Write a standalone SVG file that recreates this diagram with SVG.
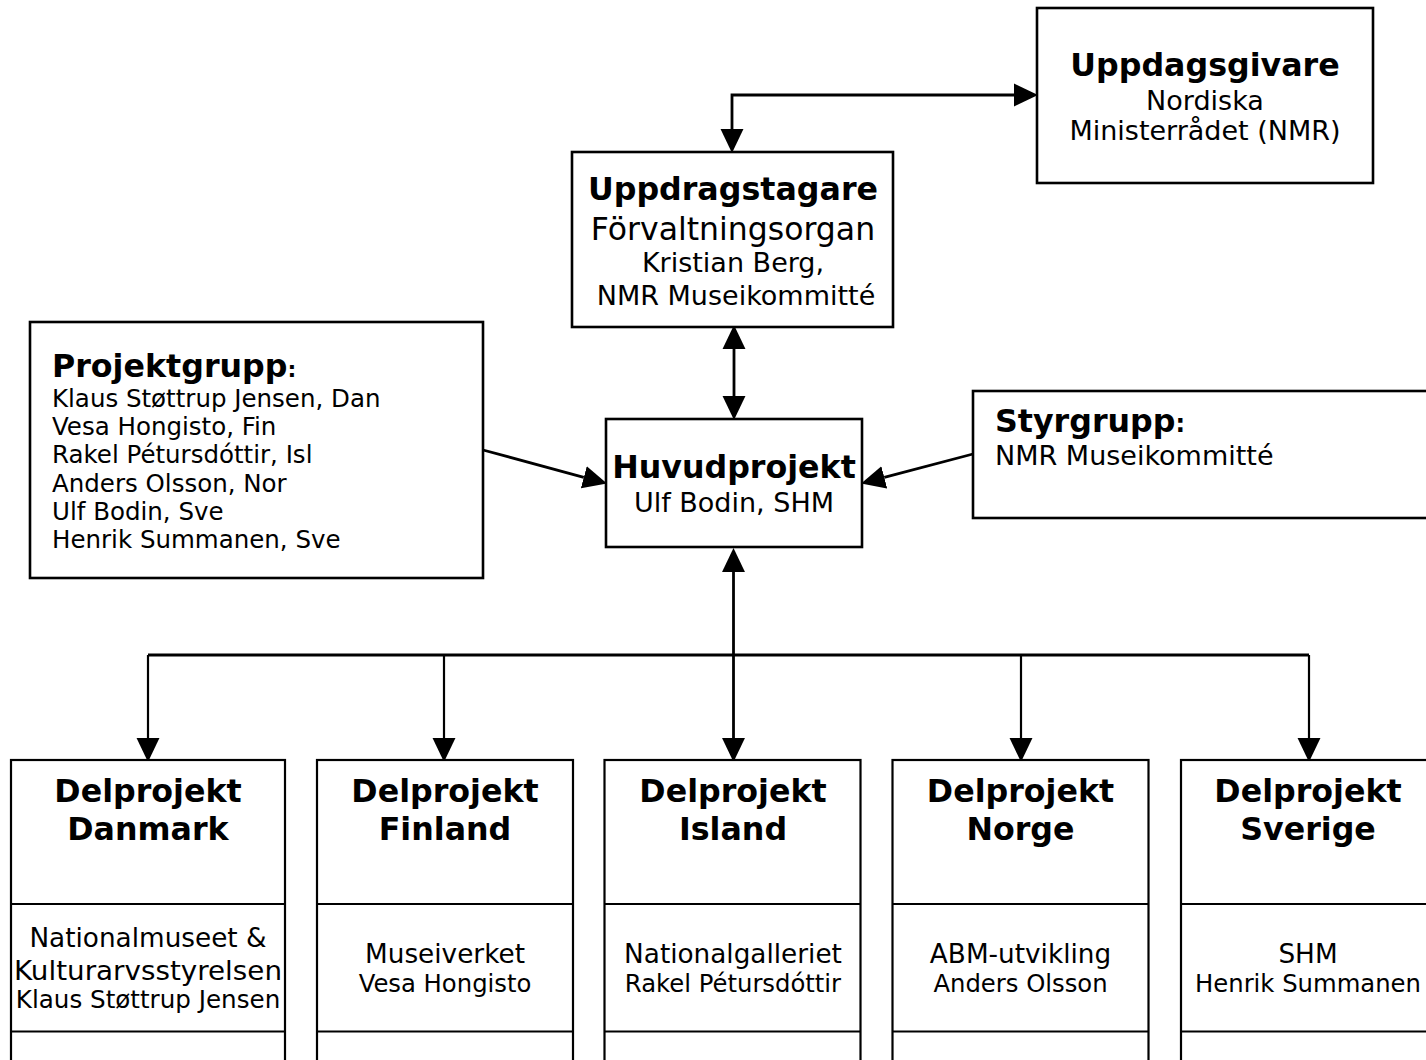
<svg xmlns="http://www.w3.org/2000/svg" width="1426" height="1060" viewBox="0 0 1426 1060">
<style>
text{font-family:"DejaVu Sans",Verdana,sans-serif;fill:#000}
.b{font-weight:bold;font-size:31.7px}
.r{font-size:27px}
.s{font-size:24.3px}
.p{font-size:24.5px}
.c{text-anchor:middle}
.box{fill:#fff;stroke:#000;stroke-width:2.6}
.bx2{fill:#fff;stroke:#000;stroke-width:2.2}
.ln{fill:none;stroke:#000;stroke-width:2.2}
.con{fill:none;stroke:#000;stroke-width:2.8}
</style>
<defs>
<marker id="ah" markerUnits="userSpaceOnUse" markerWidth="24" markerHeight="24" refX="0" refY="10.5" orient="auto-start-reverse" viewBox="0 0 22 21">
<path d="M0,0 L22,10.5 L0,21 z" fill="#000"/>
</marker>
</defs>
<rect width="1426" height="1060" fill="#fff"/>

<g id="connectors">
<path class="con" d="M732,129 L732,95 L1014,95" marker-start="url(#ah)" marker-end="url(#ah)"/>
<path class="con" d="M734,349 L734,396" marker-start="url(#ah)" marker-end="url(#ah)"/>
<path class="con" d="M483,450 L583.8,477.3" marker-end="url(#ah)"/>
<path class="con" d="M973,454 L884.3,477.4" marker-end="url(#ah)"/>
<path class="con" d="M733.5,572 L733.5,738" marker-start="url(#ah)" marker-end="url(#ah)"/>
<path class="con" d="M148,655 L1309,655"/>
<path class="ln" d="M148,655 L148,738" marker-end="url(#ah)"/>
<path class="ln" d="M444,655 L444,738" marker-end="url(#ah)"/>
<path class="ln" d="M1021,655 L1021,738" marker-end="url(#ah)"/>
<path class="ln" d="M1309,655 L1309,738" marker-end="url(#ah)"/>
</g>

<g id="uppdragsgivare">
<rect class="box" x="1037" y="8" width="336" height="175"/>
<text class="b c" x="1205" y="76">Uppdagsgivare</text>
<text class="r c" x="1205" y="110">Nordiska</text>
<text class="r c" x="1205" y="140">Ministerrådet (NMR)</text>
</g>

<g id="uppdragstagare">
<rect class="box" x="572" y="152" width="321" height="175"/>
<text class="b c" x="733" y="200">Uppdragstagare</text>
<text class="c" x="733" y="240" font-size="31.5">Förvaltningsorgan</text>
<text class="r c" x="733" y="272">Kristian Berg,</text>
<text class="r c" x="736" y="305">NMR Museikommitté</text>
</g>

<g id="projektgrupp">
<rect class="box" x="30" y="322" width="453" height="256"/>
<text class="b" x="52" y="377">Projektgrupp<tspan font-size="22">:</tspan></text>
<text class="p" x="52" y="406.5">Klaus Støttrup Jensen, Dan</text>
<text class="p" x="52" y="435">Vesa Hongisto, Fin</text>
<text class="p" x="52" y="463.3">Rakel Pétursdóttir, Isl</text>
<text class="p" x="52" y="491.7">Anders Olsson, Nor</text>
<text class="p" x="52" y="520">Ulf Bodin, Sve</text>
<text class="p" x="52" y="548.3">Henrik Summanen, Sve</text>
</g>

<g id="huvudprojekt">
<rect class="box" x="606" y="419" width="256" height="128"/>
<text class="b c" x="734" y="478">Huvudprojekt</text>
<text class="r c" x="734" y="512">Ulf Bodin, SHM</text>
</g>

<g id="styrgrupp">
<rect class="box" x="973" y="391" width="480" height="127"/>
<text class="b" x="995" y="432">Styrgrupp<tspan font-size="24">:</tspan></text>
<text class="r" x="995" y="465">NMR Museikommitté</text>
</g>

<g id="delprojekt-danmark">
<rect class="bx2" x="11" y="760" width="274" height="320"/>
<path class="ln" d="M11,904 H285 M11,1031.5 H285"/>
<text class="b c" x="148" y="801.7">Delprojekt</text>
<text class="b c" x="148" y="840">Danmark</text>
<text class="c" x="148" y="946.7" font-size="26.3">Nationalmuseet &amp;</text>
<text class="c" x="148" y="980" font-size="27" textLength="268" lengthAdjust="spacingAndGlyphs">Kulturarvsstyrelsen</text>
<text class="c" x="148" y="1008" font-size="24.6">Klaus Støttrup Jensen</text>
</g>

<g id="delprojekt-finland">
<rect class="bx2" x="317" y="760" width="256" height="320"/>
<path class="ln" d="M317,904 H573 M317,1031.5 H573"/>
<text class="b c" x="445" y="801.7">Delprojekt</text>
<text class="b c" x="445" y="840">Finland</text>
<text class="c" x="445" y="963" font-size="26.3">Museiverket</text>
<text class="s c" x="445" y="992">Vesa Hongisto</text>
</g>

<g id="delprojekt-island">
<rect class="bx2" x="604.5" y="760" width="256" height="320"/>
<path class="ln" d="M604.5,904 H860.5 M604.5,1031.5 H860.5"/>
<text class="b c" x="733" y="801.7">Delprojekt</text>
<text class="b c" x="733" y="840">Island</text>
<text class="c" x="733" y="963" font-size="26.3">Nationalgalleriet</text>
<text class="s c" x="733" y="992">Rakel Pétursdóttir</text>
</g>

<g id="delprojekt-norge">
<rect class="bx2" x="892.5" y="760" width="256" height="320"/>
<path class="ln" d="M892.5,904 H1148.5 M892.5,1031.5 H1148.5"/>
<text class="b c" x="1020.5" y="801.7">Delprojekt</text>
<text class="b c" x="1020.5" y="840">Norge</text>
<text class="c" x="1020.5" y="963" font-size="26.3">ABM-utvikling</text>
<text class="s c" x="1020.5" y="992">Anders Olsson</text>
</g>

<g id="delprojekt-sverige">
<rect class="bx2" x="1181" y="760" width="270" height="320"/>
<path class="ln" d="M1181,904 H1451 M1181,1031.5 H1451"/>
<text class="b c" x="1308" y="801.7">Delprojekt</text>
<text class="b c" x="1308" y="840">Sverige</text>
<text class="c" x="1308" y="963" font-size="26.3">SHM</text>
<text class="s c" x="1308" y="992">Henrik Summanen</text>
</g>
</svg>
